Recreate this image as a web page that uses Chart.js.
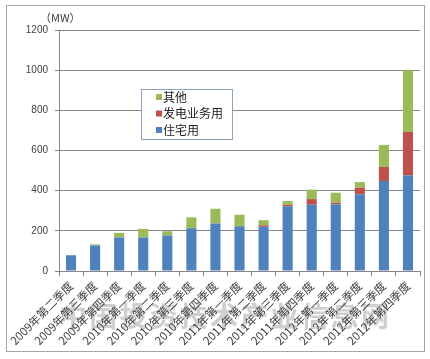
<!DOCTYPE html>
<html>
<head>
<meta charset="utf-8">
<script src="https://cdn.jsdelivr.net/npm/chart.js@4.4.1/dist/chart.umd.min.js"></script>
<style>
	html, body { margin: 0; padding: 0; background: #fff; }
	#wrap { width: 430px; height: 359px; }
</style>
</head>
<body>
<div id="wrap"><canvas id="chart" width="430" height="359"></canvas></div>
<script>
// --- data ---
const quarters = [
	"2009年第二季度", "2009年第三季度", "2009年第四季度",
	"2010年第一季度", "2010年第二季度", "2010年第三季度", "2010年第四季度",
	"2011年第一季度", "2011年第二季度", "2011年第三季度", "2011年第四季度",
	"2012年第一季度", "2012年第二季度", "2012年第三季度", "2012年第四季度"
];
const residential = [78, 127, 167, 167, 177, 213, 237, 223, 220, 322, 330, 332, 382, 448, 477];
const utility     = [0, 0, 0, 0, 0, 0, 0, 0, 8, 8, 28, 8, 33, 70, 216];
const other       = [2, 6, 23, 43, 21, 54, 73, 57, 25, 18, 47, 50, 28, 110, 307];
const yTicks = [0, 200, 400, 600, 800, 1000, 1200];
const unitLabel = "（MW）";
const watermark = "中国投资技术产业信息网";

const GRID = "#868686";
const TEXT = "#404040";
const CJK = "'Noto Sans CJK SC', 'Noto Sans', sans-serif";

// frame, unit label, legend box and faint watermark
const decorations = {
	id: "decorations",
	beforeDraw(chart) {
		const ctx = chart.ctx;
		ctx.save();
		ctx.fillStyle = "rgba(160,160,160,0.5)";
		ctx.font = "bold 28px " + CJK;
		ctx.textBaseline = "middle";
		ctx.textAlign = "center";
		const chars = Array.from(watermark);
		const x0 = 58, span = 332, slot = span / chars.length;
		chars.forEach((c, i) => ctx.fillText(c, x0 + slot * (i + 0.5), 316));
		ctx.restore();
	},
	afterDraw(chart) {
		const ctx = chart.ctx;
		ctx.save();
		// outer frame
		ctx.strokeStyle = "#a6a6a6";
		ctx.lineWidth = 1;
		ctx.strokeRect(6.5, 5.5, 418, 346);

		// unit label
		ctx.fillStyle = TEXT;
		ctx.font = "11px " + CJK;
		ctx.textBaseline = "middle";
		ctx.textAlign = "left";
		ctx.fillText(unitLabel, 40, 18);

		// legend, stacked order reversed
		const bx = 141.5, by = 89.5, bw = 91, bh = 50;
		ctx.fillStyle = "#fff";
		ctx.fillRect(bx, by, bw, bh);
		ctx.strokeStyle = "#8fa3c0";
		ctx.strokeRect(bx, by, bw, bh);
		const sets = chart.data.datasets.slice().reverse();
		ctx.font = "12px " + CJK;
		sets.forEach((ds, i) => {
			const y = 97 + i * 16.5;
			ctx.fillStyle = ds.backgroundColor;
			ctx.fillRect(156, y - 3, 6, 6);
			ctx.fillStyle = "#222";
			ctx.fillText(ds.label, 163, y);
		});
		ctx.restore();
	}
};

new Chart(document.getElementById("chart"), {
	type: "bar",
	data: {
		labels: quarters,
		datasets: [
			{ label: "住宅用", data: residential, backgroundColor: "#4f81bd" },
			{ label: "发电业务用", data: utility, backgroundColor: "#c0504d" },
			{ label: "其他", data: other, backgroundColor: "#9bbb59" }
		]
	},
	options: {
		responsive: false,
		animation: false,
		devicePixelRatio: 1,
		layout: { padding: { top: 30, right: 10, left: 0, bottom: 0 } },
		datasets: { bar: { categoryPercentage: 1, barPercentage: 0.42, borderWidth: 0 } },
		plugins: { legend: { display: false }, tooltip: { enabled: false } },
		scales: {
			x: {
				stacked: true,
				grid: { offset: true, drawOnChartArea: false, drawTicks: true, tickLength: 5, color: GRID },
				border: { color: GRID },
				ticks: {
					autoSkip: false, maxRotation: 45, minRotation: 45, padding: 3,
					color: TEXT, font: { size: 11.5, family: CJK }
				},
				afterFit: (s) => { s.height = 88; }
			},
			y: {
				stacked: true,
				min: 0,
				max: 1200,
				afterBuildTicks: (s) => { s.ticks = yTicks.map((v) => ({ value: v })); },
				grid: { color: GRID, tickLength: 4 },
				border: { color: GRID },
				ticks: {
					padding: 7, color: TEXT,
					font: { size: 10, family: "'Liberation Sans', sans-serif" },
					callback: (v) => String(v)
				},
				afterFit: (s) => { s.width = 59; }
			}
		}
	},
	plugins: [decorations]
});
</script>
</body>
</html>
